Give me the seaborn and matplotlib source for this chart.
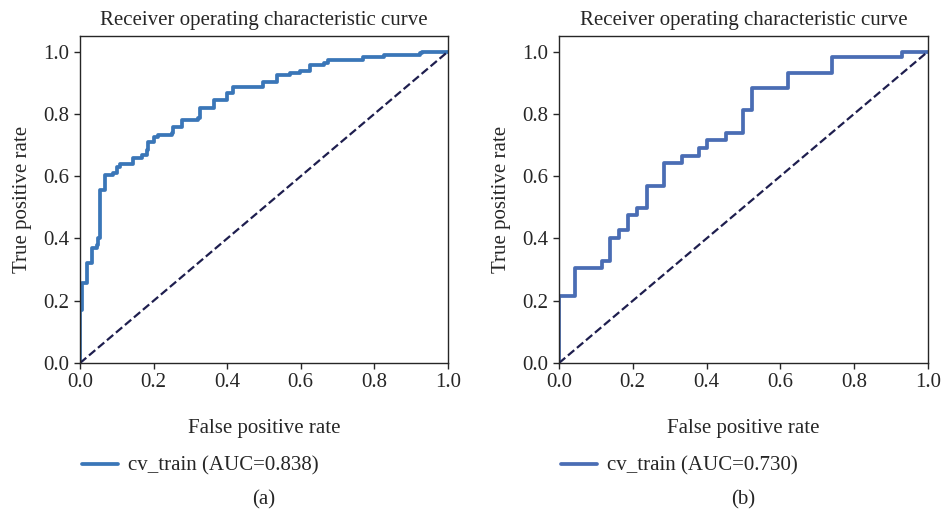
import matplotlib
matplotlib.use("Agg")
from matplotlib import pyplot as plt
import pandas as pd
import seaborn as sns

# ------------------------------- Data --------------------------------
# Panel (a): cv_train ROC corners (x where the step happens, new TPR)
fpr_a = [0.0, 0.0, 0.005, 0.02, 0.02, 0.032, 0.045, 0.05, 0.054, 0.054, 0.068, 0.068,
         0.09, 0.1, 0.109, 0.145, 0.168, 0.181, 0.186, 0.2, 0.213, 0.249, 0.254, 0.277,
         0.322, 0.325, 0.363, 0.399, 0.417, 0.462, 0.498, 0.535, 0.571, 0.598, 0.626,
         0.662, 0.675, 0.734, 0.77, 0.816, 0.825, 0.924, 0.929, 1.0]
tpr_a = [0.0, 0.17, 0.257, 0.262, 0.32, 0.37, 0.38, 0.40, 0.405, 0.556, 0.578, 0.604,
         0.61, 0.63, 0.64, 0.66, 0.668, 0.685, 0.711, 0.727, 0.733, 0.738, 0.759, 0.78,
         0.786, 0.818, 0.845, 0.866, 0.886, 0.888, 0.904, 0.925, 0.93, 0.939, 0.957,
         0.962, 0.973, 0.973, 0.982, 0.982, 0.989, 0.994, 1.0, 1.0]
auc_a = 0.838

# Panel (b)
fpr_b = [0.0, 0.0, 0.043, 0.116, 0.138, 0.164, 0.188, 0.212, 0.238, 0.285, 0.333,
         0.381, 0.402, 0.452, 0.4985, 0.523, 0.62, 0.74, 0.93, 1.0]
tpr_b = [0.0, 0.214, 0.305, 0.329, 0.401, 0.426, 0.476, 0.499, 0.570, 0.642, 0.666,
         0.69, 0.717, 0.74, 0.811, 0.882, 0.931, 0.982, 1.0, 1.0]
auc_b = 0.730

chance = [0.0, 1.0]

panels = [
    (fpr_a, tpr_a, auc_a, "#3a76b8", "(a)"),
    (fpr_b, tpr_b, auc_b, "#4a6db4", "(b)"),
]

# ------------------------------- Style --------------------------------
sns.set_style("ticks")
plt.rcParams['font.family'] = ['Liberation Serif', 'DejaVu Serif']
plt.rcParams['font.size'] = 15

fig = plt.figure(figsize=(9.41, 5.15), dpi=100)
axes_pos = [[0.085, 0.295, 0.391, 0.635], [0.594, 0.295, 0.392, 0.635]]

for pos, (fpr, tpr, auc, color, tag) in zip(axes_pos, panels):
    ax = fig.add_axes(pos)
    df = pd.DataFrame({"fpr": fpr, "tpr": tpr})
    # estimator=None keeps every point (no aggregation of repeated x values)
    sns.lineplot(data=df, x="fpr", y="tpr", sort=False, estimator=None,
                 drawstyle="steps-post", color=color, linewidth=2.7, ax=ax,
                 label=f"cv_train (AUC={auc:.3f})")
    sns.lineplot(x=chance, y=chance, estimator=None, color="#1e1e4e",
                 linestyle="--", linewidth=1.6, ax=ax)

    ax.set_xlim(0, 1.0)
    ax.set_ylim(0, 1.05)
    ax.set_xticks([0.0, 0.2, 0.4, 0.6, 0.8, 1.0])
    ax.set_yticks([0.0, 0.2, 0.4, 0.6, 0.8, 1.0])
    ax.tick_params(labelsize=15, length=4, width=1)
    for s in ax.spines.values():
        s.set_linewidth(1.0)
    ax.set_title("Receiver operating characteristic curve", fontsize=15, pad=8)
    ax.set_xlabel("False positive rate", fontsize=15, labelpad=19)
    ax.set_ylabel("True positive rate", fontsize=15, labelpad=8)
    ax.legend(loc="upper left", bbox_to_anchor=(-0.045, -0.228), frameon=False,
              fontsize=15, handlelength=1.7, handletextpad=0.5)

    cx = pos[0] + pos[2] / 2
    fig.text(cx, 1 - 500 / 515, tag, ha="center", va="center", fontsize=15)

fig.savefig("out.png", dpi=100)
